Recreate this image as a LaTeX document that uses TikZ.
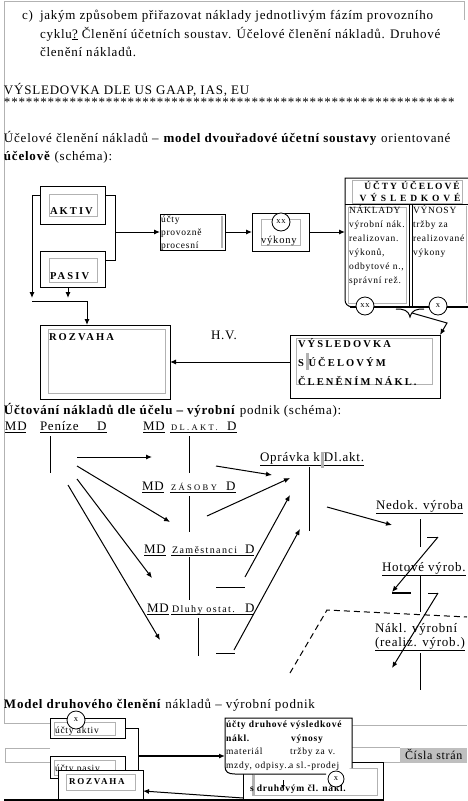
\documentclass[tikz,border=0pt]{standalone}
\usepackage{fontspec}
\setmainfont{Liberation Serif}
\newfontfamily\fm{Liberation Serif}[LetterSpace=6]
\newfontfamily\fs{Liberation Serif}[LetterSpace=8]
\newfontfamily\fn{Liberation Serif}[LetterSpace=14]
\newfontfamily\fw{Liberation Serif}[LetterSpace=20]
\newfontfamily\fww{Liberation Serif}[LetterSpace=28]
\newfontfamily\fwx{Liberation Serif}[LetterSpace=40]
\usetikzlibrary{arrows.meta}
\begin{document}
\begin{tikzpicture}[x=1pt,y=-1pt,
  every node/.style={inner sep=0pt, outer sep=0pt},
  tm/.style={anchor=base west, font=\fm\fontsize{13}{16}\selectfont},
  tb/.style={anchor=base west, font=\fw\fontsize{10.5}{12}\selectfont\bfseries},
  ts/.style={anchor=base west, font=\fs\fontsize{9.5}{11}\selectfont},
  tsb/.style={anchor=base west, font=\fs\fontsize{9.5}{11}\selectfont\bfseries},
  tn/.style={anchor=base west, font=\fn\fontsize{10}{12}\selectfont},
  tsc/.style={anchor=base west, font=\fww\fontsize{8.5}{10}\selectfont},
  box/.style={draw, line width=1pt, anchor=center},
  gry/.style={draw=black!30, line width=0.8pt},
  ln/.style={line width=1pt},
  arr/.style={line width=1pt, -{Latex[length=6pt,width=5pt]}},
  cir/.style={circle, draw, line width=0.8pt, fill=white, minimum size=18pt, anchor=center, font=\fs\fontsize{8.5}{10}\selectfont}]
\useasboundingbox (0,0) rectangle (467,801);

% page frame
\draw[gry] (4,723) -- (4,1.5) -- (464,1.5) -- (464,20);
\draw[gry] (4,723) -- (50,723);
\draw[gry] (50,748) -- (5,748) -- (5,762) -- (50,762);
\draw[gry] (352,725) -- (467,725);
\draw[gry] (352,747) -- (400,747);
\draw[gry] (383,762) -- (400,762);
\fill[black!25] (400,748) rectangle (467,763);
\node[anchor=base west, font=\fm\fontsize{12}{14}\selectfont] (cisla) at (405,759) {Čísla strán};

% text
\node[tm] (c) at (22,19) {c)};
\node[tm] (l1) at (40,19) {jakým způsobem přiřazovat náklady jednotlivým fázím provozního};
\node[tm] (l2) at (40,38) {cyklu\underline{?} Členění účetních soustav. Účelové členění nákladů. Druhové};
\node[tm] (l3) at (40,56) {členění nákladů.};
\node[tm] (h1) at (4,94) {VÝSLEDOVKA DLE US GAAP, IAS, EU};
\node[tm] (stars) at (4,106) {**************************************************************};
\node[tm] (p2) at (4,142) {Účelové členění nákladů – \textbf{model dvouřadové účetní soustavy} orientované};
\node[tm] (p3) at (4,160) {\textbf{účelově} (schéma):};

% schema 1
\node[box, minimum width=65pt, minimum height=38pt] (aktiv) at (72.5,205) {};
\draw[gry] (49,194) rectangle (97,216);
\node[tb] (aktivt) at (50,214) {AKTIV};
\node[box, minimum width=65pt, minimum height=36pt] (pasiv) at (72.5,269) {};
\draw[gry] (49,258) rectangle (97,282);
\node[tb] (pasivt) at (50,279) {PASIV};
\node[box, minimum width=130pt, minimum height=74pt] (rozv) at (105,362) {};
\draw[gry] (48,329) rectangle (165,393);
\node[tb] (rozvt) at (49,340) {ROZVAHA};

\coordinate (jl) at (32,301);
\coordinate (jr) at (87,301);
\draw[arr] (aktiv.west |- 0,195) -| (32,298);
\draw[arr] (pasiv.south -| 68,0) -- (68,298);
\draw[ln] (jl) -- (jr);
\draw[arr] (jr) -- (rozv.north -| jr);
\draw[ln] (aktiv.east |- 0,195) -- (115,195) -- (115,260) -- (pasiv.east |- 0,260);

\node[box, minimum width=65pt, minimum height=36pt] (proc) at (192.5,232) {};
\draw[black!30, line width=1.5pt] (222,216) -- (222,248);
\node[ts] (pr1) at (161,222) {účty};
\node[ts] (pr2) at (161,235) {provozně};
\node[ts] (pr3) at (161,248) {procesní};
\draw[arr] (115,232) -- (proc.west);

\node[box, minimum width=57pt, minimum height=38pt] (vyk) at (280.5,232) {};
\draw[gry] (261,219) rectangle (300,245);
\node[cir] (vykc) at (281,222) {xx};
\node[ts, font=\fs\fontsize{10.5}{12}\selectfont] (vykt) at (261,243) {výkony};
\draw[arr] (proc.east) -- (vyk.west);

% big result box
\draw[ln] (470,178) -- (345,178) -- (345,299) .. controls (345,304) and (347,306) .. (352,307);
\draw[line width=1.8pt] (350,307) -- (470,307);
\draw[ln] (345,204) -- (470,204);
\draw[gry] (352,180) rectangle (462,203);
\draw[gry] (348,207) rectangle (406,303);
\draw[ln] (409,204) -- (409,306);
\draw[ln] (412,204) -- (412,306);
\draw[gry] (466,206) -- (466,303);
\coordinate (ucvw) at (345,232);
\draw[arr] (vyk.east) -- (ucvw);
\node[tb, anchor=base, font=\fw\fontsize{9.5}{11}\selectfont\bfseries] (uh1) at (412,189) {ÚČTY ÚČELOVÉ};
\node[tb, anchor=base, font=\fwx\fontsize{9.5}{11}\selectfont\bfseries] (uh2) at (410,201) {VÝSLEDKOVÉ};
\node[ts] (n1) at (349,213) {NÁKLADY};
\node[ts] (n2) at (349,227) {výrobní nák.};
\node[ts] (n3) at (349,241) {realizovan.};
\node[ts] (n4) at (349,255) {výkonů,};
\node[ts] (n5) at (349,269) {odbytové n.,};
\node[ts] (n6) at (349,283) {správní rež.};
\node[ts] (v1) at (413,213) {VÝNOSY};
\node[ts] (v2) at (413,227) {tržby za};
\node[ts] (v3) at (413,241) {realizované};
\node[ts] (v4) at (413,255) {výkony};
\draw[ln] (396,309) .. controls (404,309) and (408,310) .. (410,317) .. controls (412,310) and (416,309) .. (424,309);
\node[cir] (cxx) at (365,306) {xx};
\node[cir] (cx) at (438,306) {x};

\node[box, minimum width=150pt, minimum height=63pt] (vysl) at (365,366.5) {};
\draw[gry] (296,338) rectangle (432,384);
\fill[black!30] (306,353) rectangle (309,370);
\node[tb] (vy1) at (298,347) {VÝSLEDOVKA};
\node[tb] (vy2) at (298,366) {S ÚČELOVÝM};
\node[tb] (vy3) at (298,385) {ČLENĚNÍM NÁKL.};
\draw[arr] (412,313) -- (447,323) -- (vysl.north east);
\node[tm] (hv) at (211,339) {H.V.};
\draw[arr] (vysl.west |- rozv.east) -- (rozv.east);

% section 2
\node[tm] (s2) at (4,414) {\textbf{Účtování nákladů dle účelu – výrobní} podnik (schéma):};

\node[tm] (md1) at (5,430) {MD};
\node[tm] (pen) at (40,430) {Peníze};
\node[tm] (d1) at (97,430) {D};
\draw[ln] (5,432.5) -- (26,432.5);
\draw[ln] (40,432.5) -- (107,432.5);
\draw[ln] (50,436) -- (50,473);

\node[tm] (md2) at (143,430) {MD};
\node[tsc] (dla) at (171,430) {DL.AKT.};
\node[tm] (d2) at (227,430) {D};
\draw[ln] (143,432.5) -- (165,432.5);
\draw[ln] (170,432.5) -- (237,432.5);
\draw[ln] (189,436) -- (189,473);

\node[tm] (md3) at (142,490) {MD};
\node[tsc] (zas) at (171,490) {ZÁSOBY};
\node[tm] (d3) at (226,490) {D};
\draw[ln] (142,492.5) -- (164,492.5);
\draw[ln] (170,492.5) -- (236,492.5);
\draw[ln] (189,496) -- (189,532);

\node[tm] (md4) at (144,553) {MD};
\node[tn] (zam) at (172,553) {Zaměstnanci};
\node[tm] (d4) at (245,553) {D};
\draw[ln] (144,555.5) -- (166,555.5);
\draw[ln] (171,555.5) -- (254,555.5);
\draw[ln] (189,557) -- (189,600);

\node[tm] (md5) at (147,612) {MD};
\node[tn] (dlu) at (172,612) {Dluhy ostat.};
\node[tm] (d5) at (245,612) {D};
\draw[ln] (147,614.5) -- (169,614.5);
\draw[ln] (171,614.5) -- (254,614.5);
\draw[ln] (198,618) -- (198,656);

\node[tm] (opr) at (260,461) {\underline{Oprávka k Dl.akt.}};
\fill[black!30] (321,452) rectangle (324,468);
\draw[ln] (309,467) -- (309,531);

\node[tm] (ned) at (376,509) {\underline{Nedok. výroba}};
\node[tm] (hot) at (382,571) {\underline{Hotové výrob.}};
\node[tm] (nak1) at (375,632) {Nákl. výrobní};
\node[tm] (nak2) at (375,646) {\underline{(realiz. výrob.)}};
\draw[ln] (420,519) -- (420,547);
\draw[ln] (420,575) -- (420,612);
\draw[ln] (420,653) -- (420,690);

\draw[ln] (216,587) -- (245,587);
\draw[ln] (216,653) -- (235,653);

\draw[arr] (77,457) -- (152,457);
\draw[arr] (77,466) -- (170,522);
\draw[arr] (77,479) -- (152,578);
\draw[arr] (68,485) -- (160,640);
\draw[arr] (216,466) -- (272,475);
\draw[arr] (207,516) -- (290,478);
\draw[arr] (245,577) -- (290,495);
\draw[arr] (234,650) -- (300,529);
\draw[arr] (327,507) -- (392,525);
\draw[ln] (427,537) -- (438,537);
\draw[arr] (438,537) -- (392,592);
\draw[line width=1.6pt] (392,593) -- (411,593);
\draw[ln] (428,593) -- (438,593);
\draw[arr] (438,593) -- (392,668);
\draw[line width=1pt, dash pattern=on 6pt off 4pt] (290,673) -- (327,610) -- (467,617);

% section 3
\node[tm] (s3) at (4,708) {\textbf{Model druhového členění} nákladů – výrobní podnik};

\node[box, minimum width=140pt, minimum height=38pt] (sdr) at (313,781) {};
\draw[gry] (252,768) rectangle (377,795);
\fill[black!30] (252,775) rectangle (255,795);
\node[tsb] (sdrt) at (250,791) {s druhovým čl. nákl.};

\filldraw[fill=white, line width=1pt] (352,768) -- (352,718) -- (225,718) -- (225,766) .. controls (225,772) and (228,774) .. (235,774) -- (326,774);
\node[tsb] (dr1) at (226,727) {účty druhové výsledkové};
\node[tsb] (dr2) at (226,741) {nákl.};
\node[tsb] (dr3) at (291,741) {výnosy};
\node[ts] (dr4) at (226,754) {materiál};
\node[ts] (dr5) at (290,754) {tržby za v.};
\node[ts] (dr6) at (226,768) {mzdy, odpisy..};
\node[ts] (dr7) at (289,768) {a sl.-prodej};
\node[cir, minimum size=16pt] (cx2) at (336,779) {x};
\draw[line width=0.8pt, -{Latex[length=4pt,width=4pt]}] (283,780) -- (283,789);
\coordinate (druhw) at (225,756);

\node[box, minimum width=75pt, minimum height=20pt] (ua) at (87.5,728) {};
\draw[gry] (54,722) rectangle (115,735);
\node[ts] (uat) at (55,733) {účty aktiv};
\node[cir] (cx3) at (76,720) {x};
\node[box, minimum width=75pt, minimum height=22pt] (up) at (87.5,767) {};
\draw[gry] (54,760) rectangle (115,775);
\node[ts] (upt) at (55,771) {účty pasiv};
\draw[ln] (ua.east) -- (138,728) -- (138,776) -- (up.east |- 0,776);
\draw[line width=2pt, -{Latex[length=6pt,width=5pt]}] (138,756) -- (druhw);

\node[box, fill=white, minimum width=85pt, minimum height=30pt] (rz2) at (100.5,785) {};
\draw[gry] (66,774) rectangle (135,790);
\node[tb, font=\fw\fontsize{9}{11}\selectfont\bfseries] (rz2t) at (69,784) {ROZVAHA};
\draw[line width=1.5pt] (4,800) -- (383,800);
\coordinate (r2e) at (143,791);
\draw[arr] (243,798) -- (r2e);
\end{tikzpicture}
\end{document}
